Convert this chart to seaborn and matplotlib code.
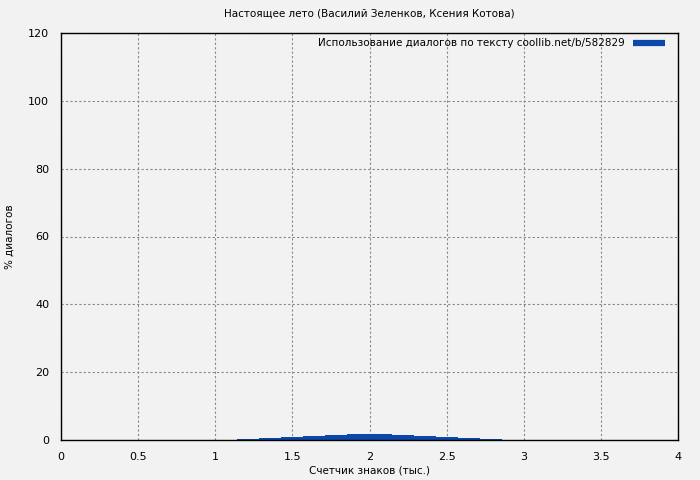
import matplotlib
matplotlib.use('Agg')
import matplotlib.pyplot as plt
import seaborn as sns
from matplotlib.lines import Line2D

# Data: share of dialogue (%) by character count (thousands)
bin_edges = [1.143, 1.286, 1.429, 1.571, 1.714, 1.857, 2.0, 2.143, 2.286, 2.429, 2.571, 2.714, 2.857]
bin_centers = [1.214, 1.357, 1.5, 1.643, 1.786, 1.929, 2.071, 2.214, 2.357, 2.5, 2.643, 2.786]
dialog_pct = [0.3, 0.6, 0.9, 1.2, 1.5, 1.8, 1.8, 1.5, 1.2, 0.9, 0.6, 0.3]

title = 'Настоящее лето (Василий Зеленков, Ксения Котова)'
legend_label = 'Использование диалогов по тексту coollib.net/b/582829'
bar_color = '#0b48aa'

sns.set_style('white')
plt.rcParams['font.family'] = ['DejaVu Sans']
plt.rcParams['text.color'] = 'black'
plt.rcParams['axes.labelcolor'] = 'black'
plt.rcParams['xtick.color'] = 'black'
plt.rcParams['ytick.color'] = 'black'

fig = plt.figure(figsize=(7, 4.8), dpi=100, facecolor='#f2f2f2')
ax = fig.add_axes([61 / 700, 40 / 480, 617 / 700, 407 / 480])
ax.set_facecolor('#f2f2f2')

sns.histplot(x=bin_centers, weights=dialog_pct, bins=bin_edges, color=bar_color,
             alpha=1, linewidth=0, ax=ax)

ax.set_xlim(0, 4)
ax.set_ylim(0, 120)
ax.set_xticks([0, 0.5, 1, 1.5, 2, 2.5, 3, 3.5, 4])
ax.set_xticklabels(['0', '0.5', '1', '1.5', '2', '2.5', '3', '3.5', '4'])
ax.set_yticks(range(0, 121, 20))
ax.tick_params(labelsize=8, length=5, width=1, color='black', direction='out')
ax.grid(True, color='#888888', linestyle=(0, (2, 2)), linewidth=0.8)
ax.set_axisbelow(True)
for sp in ax.spines.values():
    sp.set_color('black')
    sp.set_linewidth(1)

ax.set_title(title, fontsize=7.5, pad=12)
ax.set_xlabel('Счетчик знаков (тыс.)', fontsize=7.5, labelpad=3)
ax.set_ylabel('% диалогов', fontsize=7.5, labelpad=10)

handle = Line2D([0], [0], color=bar_color, linewidth=4.5, solid_capstyle='butt')
ax.legend([handle], [legend_label], loc='upper right', bbox_to_anchor=(0.992, 1.0075),
          markerfirst=False, frameon=False, fontsize=7.5, handlelength=3.0,
          handletextpad=0.8, borderaxespad=0.6, borderpad=0.2)

fig.savefig('out.png', dpi=100, facecolor=fig.get_facecolor())
